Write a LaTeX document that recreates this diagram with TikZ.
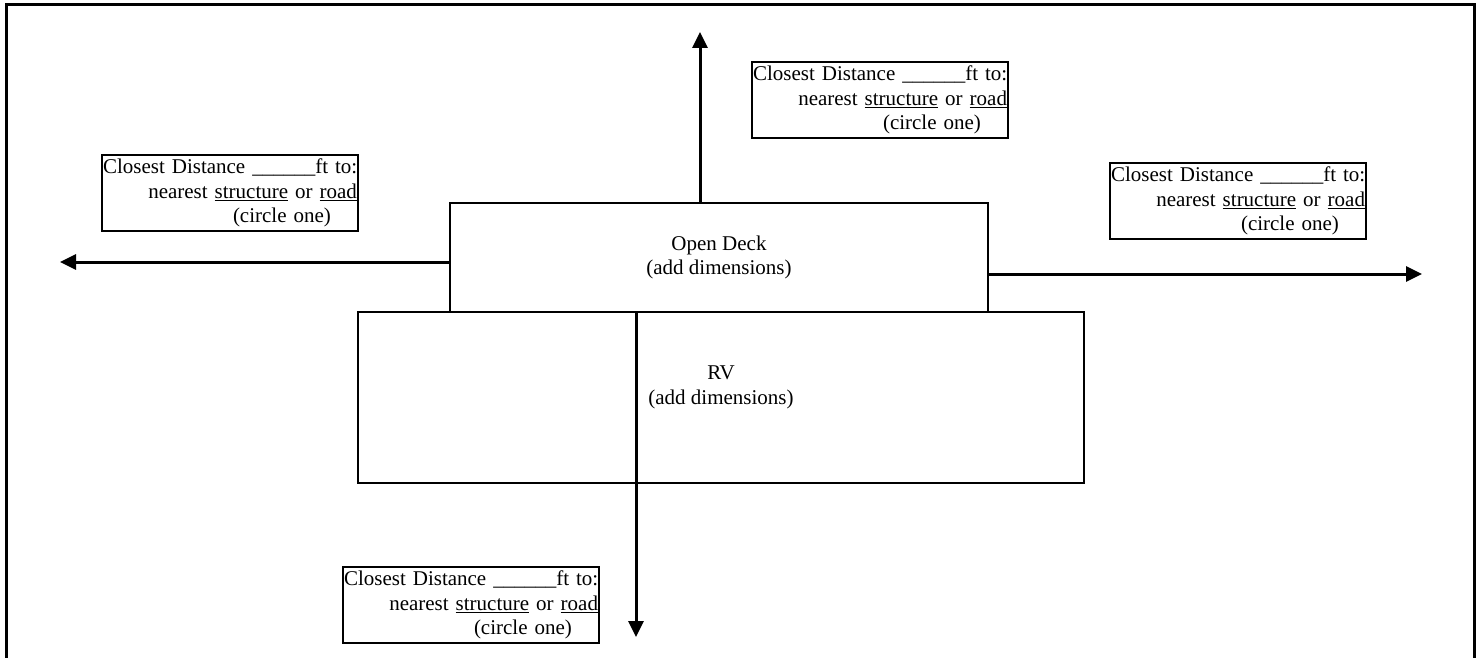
\documentclass[tikz,border=0pt]{standalone}
\usepackage{fontspec}
\setmainfont{Liberation Serif}
\usepackage{tikz}
\usetikzlibrary{positioning,arrows.meta}

\tikzset{
  area/.style={draw,line width=2pt,outer sep=0pt,align=center},
  txt/.style={font=\fontsize{21}{24.5}\selectfont},
  distbox/.style={draw,line width=2pt,anchor=north west,outer sep=0pt,
    inner xsep=1pt,inner ysep=1.5pt,text width=254pt,minimum height=76pt,
    align=left,font=\fontsize{21}{24.5}\selectfont},
  ray/.style={line width=3pt,-{Triangle[length=16pt,width=15pt]}}
}
\newcommand{\distlabel}{\makebox[\linewidth][l]{Closest Distance \_\_\_\_\_\_ft to:}\\
  \hspace*{\fill}nearest \underline{structure} or \underline{road}\\
  \hspace*{130pt}(circle one)}

\begin{document}
\begin{tikzpicture}[x=1pt,y=-1pt]
  \useasboundingbox (0,0) rectangle (1482,658);
  % page frame
  \draw[line width=3pt] (6,660) |- (1474,5) -- (1474,660);

  \node[area,txt,minimum width=538pt,minimum height=109pt] (deck) at (719,257.5)
    {Open Deck\\(add dimensions)};
  \node[area,minimum width=726pt,minimum height=171pt,below=0pt of deck,xshift=2pt] (rv) {};
  \node[txt,align=center] (rvtext) at ([yshift=10pt]rv.center) {RV\\(add dimensions)};

  % tips of the arrows
  \coordinate (ntip) at (700,32);
  \coordinate (wtip) at (60,262);
  \coordinate (etip) at (1422,274);
  \coordinate (stip) at (636,637);

  \draw[ray] (ntip |- deck.north) -- (ntip);
  \draw[ray] (deck.west |- wtip) -- (wtip);
  \draw[ray] (deck.east |- etip) -- (etip);
  \draw[ray] (rv.north -| stip) -- (stip);

  % distance boxes
  \node[distbox] (ndist) at (752,62) {\distlabel};
  \node[distbox] (wdist) at (102,155) {\distlabel};
  \node[distbox] (edist) at (1110,163) {\distlabel};
  \node[distbox] (sdist) at (343,567) {\distlabel};
\end{tikzpicture}
\end{document}
